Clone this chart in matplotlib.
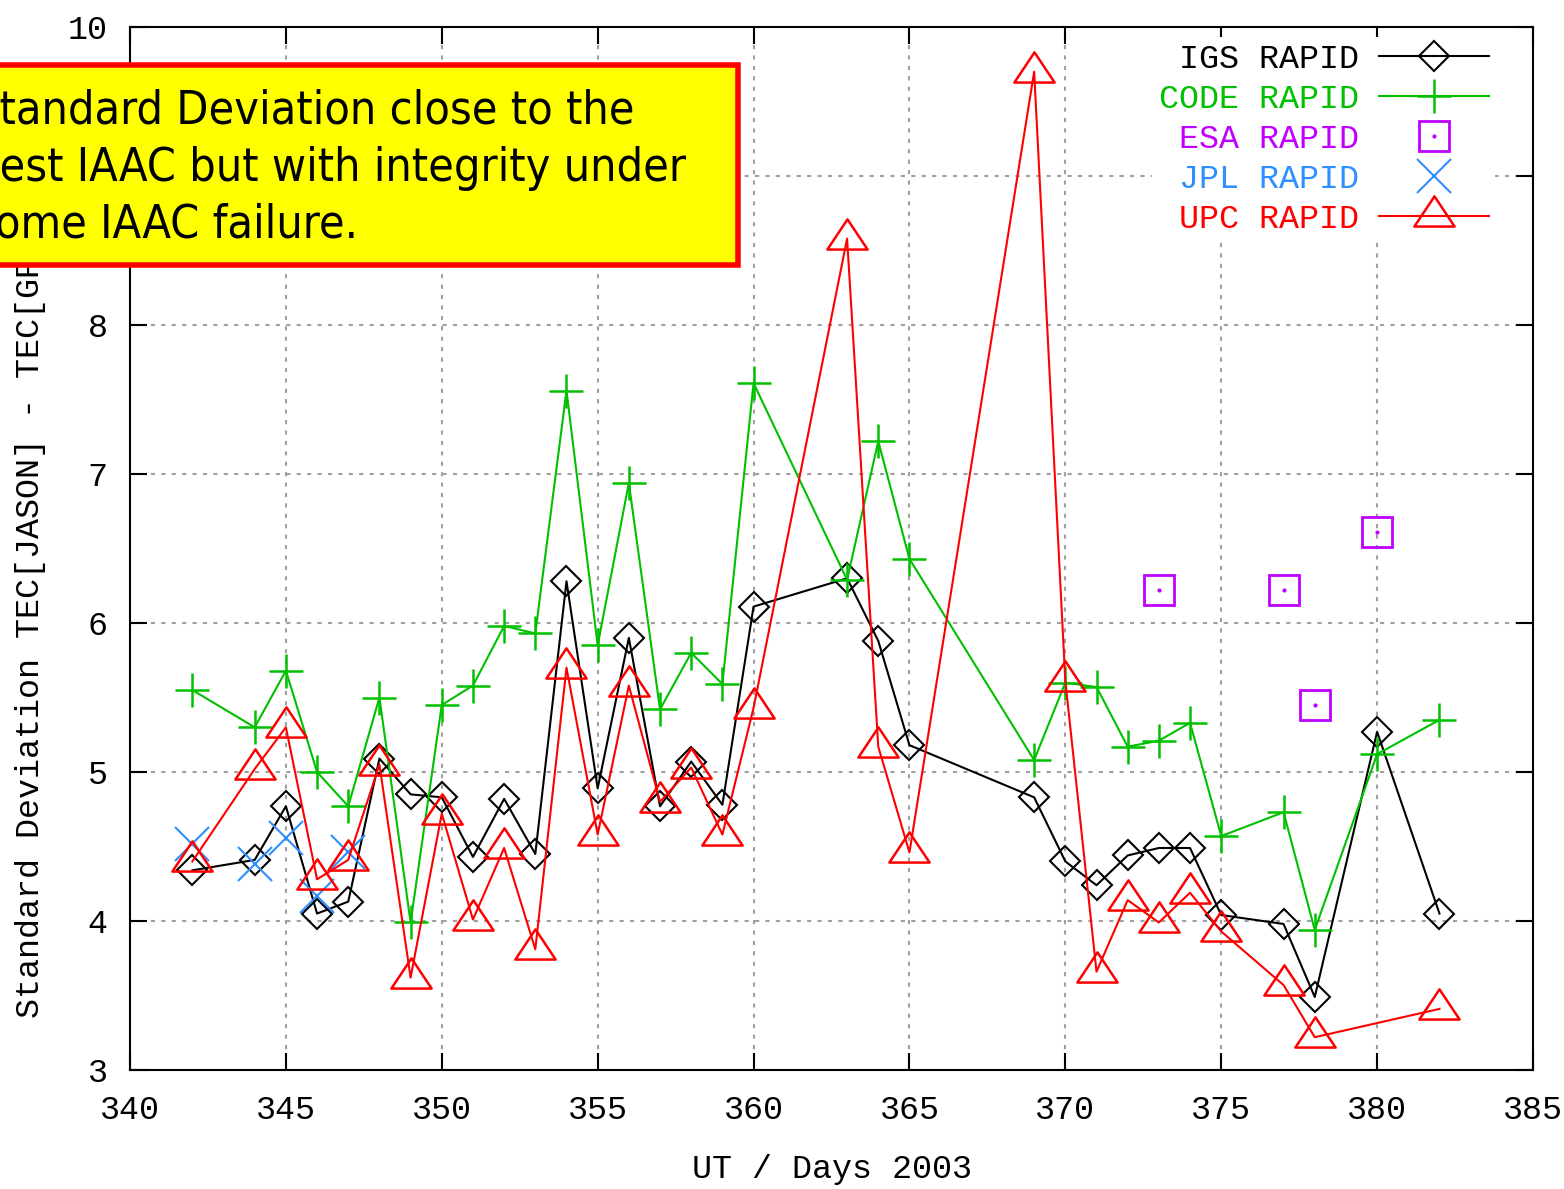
import matplotlib
matplotlib.use("Agg")
import matplotlib.pyplot as plt
from matplotlib.path import Path
from matplotlib.patches import Rectangle
from matplotlib.legend_handler import HandlerTuple

# ---- data: standard deviation of TEC(JASON) - TEC(GPS) per day ----
igs_days = [342, 344, 345, 346, 347, 348, 349, 350, 351, 352, 353, 354, 355, 356, 357, 358,
            359, 360, 363, 364, 365, 369, 370, 371, 372, 373, 374, 375, 377, 378, 380, 382]
igs_std = [4.34, 4.41, 4.77, 4.05, 4.13, 5.09, 4.85, 4.83, 4.43, 4.82, 4.45, 6.28, 4.89, 5.90,
           4.77, 5.07, 4.78, 6.11, 6.30, 5.88, 5.18, 4.83, 4.40, 4.24, 4.44, 4.49, 4.49, 4.04,
           3.98, 3.49, 5.27, 4.05]

code_days = igs_days
code_std = [5.55, 5.30, 5.68, 5.00, 4.77, 5.50, 3.99, 5.45, 5.58, 5.98, 5.93, 7.56, 5.85, 6.94,
            5.42, 5.80, 5.59, 7.61, 6.29, 7.22, 6.43, 5.08, 5.60, 5.57, 5.17, 5.21, 5.33, 4.57,
            4.73, 3.94, 5.12, 5.35]

esa_days = [373, 377, 378, 380]
esa_std = [6.22, 6.22, 5.45, 6.61]

jpl_days = [342, 344, 345, 346, 347]
jpl_std = [4.52, 4.38, 4.56, 4.17, 4.46]

upc_days = [342, 344, 345, 346, 347, 348, 349, 350, 351, 352, 353, 354, 355, 356, 357, 358,
            359, 360, 363, 364, 365, 369, 370, 371, 372, 373, 374, 375, 377, 378, 382]
upc_std = [4.40, 5.02, 5.30, 4.28, 4.41, 5.05, 3.62, 4.72, 4.01, 4.49, 3.81, 5.70, 4.58, 5.58,
           4.80, 5.03, 4.58, 5.43, 8.58, 5.17, 4.46, 9.70, 5.61, 3.66, 4.14, 3.99, 4.19, 3.93,
           3.57, 3.22, 3.41]

x_ticks = [340, 345, 350, 355, 360, 365, 370, 375, 380, 385]
y_ticks = [3, 4, 5, 6, 7, 8, 9, 10]

labels = [" IGS RAPID", "CODE RAPID", " ESA RAPID", " JPL RAPID", " UPC RAPID"]
colors = ["#000000", "#00c000", "#c000ff", "#2f8fff", "#ff0000"]

note_lines = ["Standard Deviation close to the",
              "best IAAC but with integrity under",
              "some IAAC failure."]

# ---- style ----
mono = "Liberation Mono"
fs = 24
plt.rcParams["font.family"] = [mono, "DejaVu Sans Mono"]

# triangle with its centroid on the data point
tri = Path([(0, 1.0), (-1.0, -0.5), (1.0, -0.5), (0, 1.0)],
           [Path.MOVETO, Path.LINETO, Path.LINETO, Path.CLOSEPOLY])

W, H = 1564, 1189
fig = plt.figure(figsize=(W / 100, H / 100), dpi=100)
ax = fig.add_axes([130 / W, 1 - 1070 / H, (1533 - 130) / W, (1070 - 27) / H])

lw = 1.5
h_igs, = ax.plot(igs_days, igs_std, color=colors[0], lw=lw, marker="D", ms=15.5,
                 mfc="none", mec=colors[0], mew=1.5)
h_code, = ax.plot(code_days, code_std, color=colors[1], lw=lw, marker="+", ms=25, mew=1.8)
h_esa, = ax.plot(esa_days, esa_std, ls="none", marker="s", ms=22, mfc="none",
                 mec=colors[2], mew=2)
h_esa_dot, = ax.plot(esa_days, esa_std, ls="none", marker="o", ms=2, color=colors[2])
h_jpl, = ax.plot(jpl_days, jpl_std, ls="none", marker="x", ms=24, mew=1.5, color=colors[3])
h_upc, = ax.plot(upc_days, upc_std, color=colors[4], lw=lw, marker=tri, ms=29,
                 mfc="none", mec=colors[4], mew=1.8)

ax.set_xlim(340, 385)
ax.set_ylim(3, 10)
ax.set_xticks(x_ticks)
ax.set_yticks(y_ticks)
ax.tick_params(direction="in", top=True, right=True, length=12, width=1.5,
               labelsize=fs, pad=16)
ax.tick_params(axis="x", pad=18)
for s in ax.spines.values():
    s.set_linewidth(1.5)
ax.grid(True, color="#a0a0a0", linestyle=(0, (2, 3)), linewidth=1.5)

ax.set_xlabel("UT / Days 2003", fontsize=fs, labelpad=20)
ax.set_ylabel("Standard Deviation TEC[JASON] - TEC[GPS] (TECU)", fontsize=fs)
ax.yaxis.set_label_coords(-0.06, 0.5)

leg = ax.legend([h_igs, h_code, (h_esa, h_esa_dot), h_jpl, h_upc], labels,
                handler_map={tuple: HandlerTuple(ndivide=1)},
                loc="upper right", bbox_to_anchor=(0.985, 1.006), fontsize=fs,
                markerfirst=False, frameon=True, fancybox=False, edgecolor="none",
                facecolor="white", framealpha=1, handlelength=3.3, handletextpad=0.6,
                labelspacing=0.27, borderpad=0.2, numpoints=1)
for t, c in zip(leg.get_texts(), colors):
    t.set_color(c)

# yellow note box over the upper-left corner
fig.add_artist(Rectangle((-0.02, 1 - 265 / H), 0.02 + 738 / W, 200 / H,
                         transform=fig.transFigure, facecolor="#ffff00",
                         edgecolor="#ff0000", linewidth=4, zorder=20))
for line, base in zip(note_lines, [124, 181, 238]):
    fig.text(-27 / W, 1 - base / H, line, fontsize=33.5, family="DejaVu Sans",
             fontstretch="condensed", ha="left", va="baseline", zorder=21)

fig.savefig("out.png", dpi=100)
